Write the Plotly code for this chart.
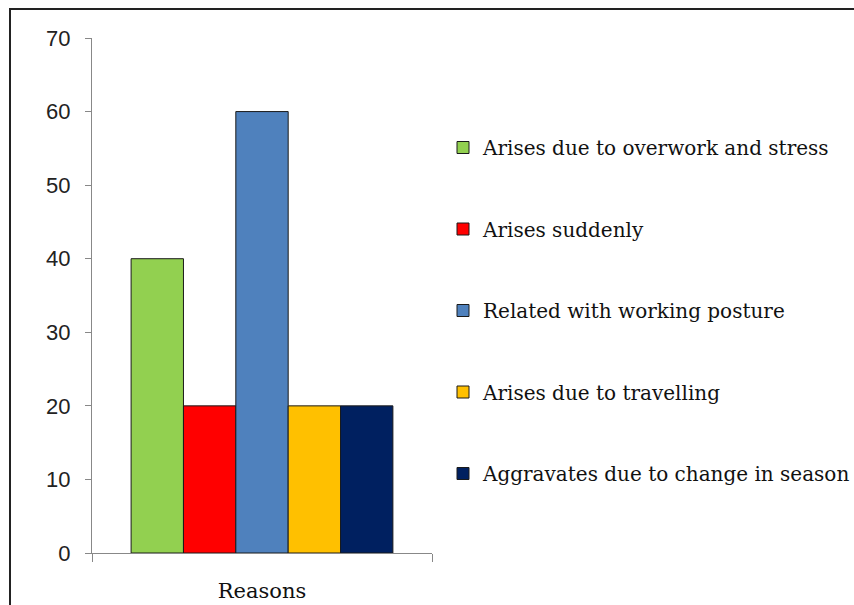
import plotly.graph_objects as go

categories = ["Reasons"]
series_names = [
    "Arises due to overwork and stress",
    "Arises suddenly",
    "Related with working posture",
    "Arises due to travelling",
    "Aggravates due to change in season",
]
series_values = [[40], [20], [60], [20], [20]]
series_colors = ["#92D050", "#FF0000", "#4F81BD", "#FFC000", "#002060"]
y_ticks = [0, 10, 20, 30, 40, 50, 60, 70]

W, H = 854, 605
L, R, T, B = 92, 854 - 432, 38, 605 - 553
pw, ph = W - L - R, H - T - B

fig = go.Figure()
for i, (name, vals, col) in enumerate(zip(series_names, series_values, series_colors)):
    fig.add_trace(go.Bar(
        x=categories, y=vals, name=name, legendgroup=f"g{i}",
        marker=dict(color=col, line=dict(color="#1a1a1a", width=1)),
    ))

fig.update_layout(
    width=W, height=H,
    margin=dict(l=L, r=R, t=T, b=B, pad=0, autoexpand=False),
    paper_bgcolor="white", plot_bgcolor="white",
    barmode="group", bargap=0.23, bargroupgap=0,
    showlegend=True,
    legend=dict(
        x=(443 - L) / pw, xanchor="left",
        y=(T + ph - 128) / ph, yanchor="top",
        font=dict(family="DejaVu Serif", size=20, color="#111"),
        tracegroupgap=52.5, traceorder="grouped",
        bgcolor="rgba(0,0,0,0)",
    ),
    xaxis=dict(
        showline=True, linecolor="#888", linewidth=1,
        ticks="outside", ticklen=8, tickcolor="#888", tickson="boundaries",
        ticklabelstandoff=19, automargin=False,
        tickfont=dict(family="DejaVu Serif", size=21, color="#111"),
        showgrid=False, zeroline=False,
    ),
    yaxis=dict(
        range=[0, 70], tickvals=y_ticks,
        showline=True, linecolor="#888", linewidth=1,
        ticks="outside", ticklen=6, tickcolor="#888",
        ticklabelstandoff=10, automargin=False,
        tickfont=dict(family="Liberation Sans", size=22, color="#222"),
        showgrid=False, zeroline=False,
    ),
    shapes=[dict(
        type="rect", xref="paper", yref="paper",
        x0=(10 - L) / pw, x1=3.0,
        y0=-1.0, y1=1 + (T - 9) / ph,
        line=dict(color="#222", width=2), fillcolor="rgba(0,0,0,0)", layer="below",
    )],
)

fig.write_html("out.html")
